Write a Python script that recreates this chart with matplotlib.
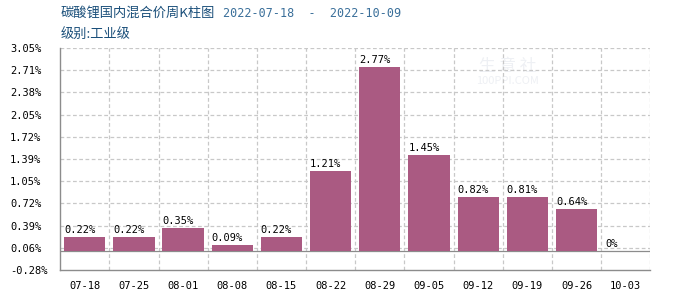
import matplotlib.pyplot as plt
import numpy as np

weeks = ["07-18", "07-25", "08-01", "08-08", "08-15", "08-22",
         "08-29", "09-05", "09-12", "09-19", "09-26", "10-03"]
change_pct = [0.22, 0.22, 0.35, 0.09, 0.22, 1.21, 2.77, 1.45, 0.82, 0.81, 0.64, 0.0]
value_labels = ["0.22%", "0.22%", "0.35%", "0.09%", "0.22%", "1.21%",
                "2.77%", "1.45%", "0.82%", "0.81%", "0.64%", "0%"]
ytick_labels = ["-0.28%", "0.06%", "0.39%", "0.72%", "1.05%", "1.39%",
                "1.72%", "2.05%", "2.38%", "2.71%", "3.05%"]

plt.rcParams["font.family"] = ["Noto Sans CJK SC", "DejaVu Sans"]
mono = "DejaVu Sans Mono"
bar_color = "#AA5A82"
grid_color = "#C8C8C8"
axis_color = "#8C8C8C"

fig = plt.figure(figsize=(7, 3), dpi=100)
ax = fig.add_axes([0.086, 0.1, 0.843, 0.74])

x = np.arange(len(weeks))
bar_w = 0.84
ax.bar(x, change_pct, width=bar_w, color=bar_color, zorder=3)

ymin, ymax = -0.28, 3.05
ax.set_ylim(ymin, ymax)
ax.set_xlim(-0.5, len(weeks) - 0.5)

yt = np.linspace(ymin, ymax, len(ytick_labels))
ax.set_yticks(yt)
ax.set_yticklabels(ytick_labels, family=mono, fontsize=7.5)
ax.set_xticks(x)
ax.set_xticklabels(weeks, family=mono, fontsize=7.5)
ax.tick_params(axis="x", length=0, pad=8)
ax.tick_params(axis="y", length=0, pad=36)
for lab in ax.get_yticklabels():
    lab.set_horizontalalignment("left")

# dashed grid
for y in yt[1:]:
    ax.axhline(y, color=grid_color, lw=0.9, ls=(0, (3, 2)), zorder=1)
for b in np.arange(0.5, len(weeks) + 0.5, 1.0):
    ax.axvline(b, color=grid_color, lw=0.9, ls=(0, (3, 2)), zorder=1)
ax.axhline(0, color=axis_color, lw=0.9, zorder=2)

for s in ["top", "right"]:
    ax.spines[s].set_visible(False)
for s in ["left", "bottom"]:
    ax.spines[s].set_color(axis_color)
    ax.spines[s].set_linewidth(1.0)

for xi, v, lab in zip(x, change_pct, value_labels):
    ax.text(xi - bar_w / 2, v + 0.03, lab, family=mono, fontsize=7.5,
            ha="left", va="bottom", zorder=4)

# watermark
ax.text(8.6, 2.78, "生 意 社", color="#EEF0F4", fontsize=12, ha="center",
        va="center", zorder=0)
ax.text(8.6, 2.55, "100PPI.COM", color="#EEF0F4", fontsize=8, ha="center",
        va="center", zorder=0)

fig.text(0.086, 0.955, "碳酸锂国内混合价周K柱图", color="#1A4F7A", fontsize=9.5,
         ha="left", va="center")
fig.text(0.318, 0.955, "2022-07-18  -  2022-10-09", color="#3A6F9A", fontsize=8.5,
         family=mono, ha="left", va="center")
fig.text(0.086, 0.885, "级别:工业级", color="#1A4F7A", fontsize=9.5,
         ha="left", va="center")

fig.savefig("out.png", dpi=100)
